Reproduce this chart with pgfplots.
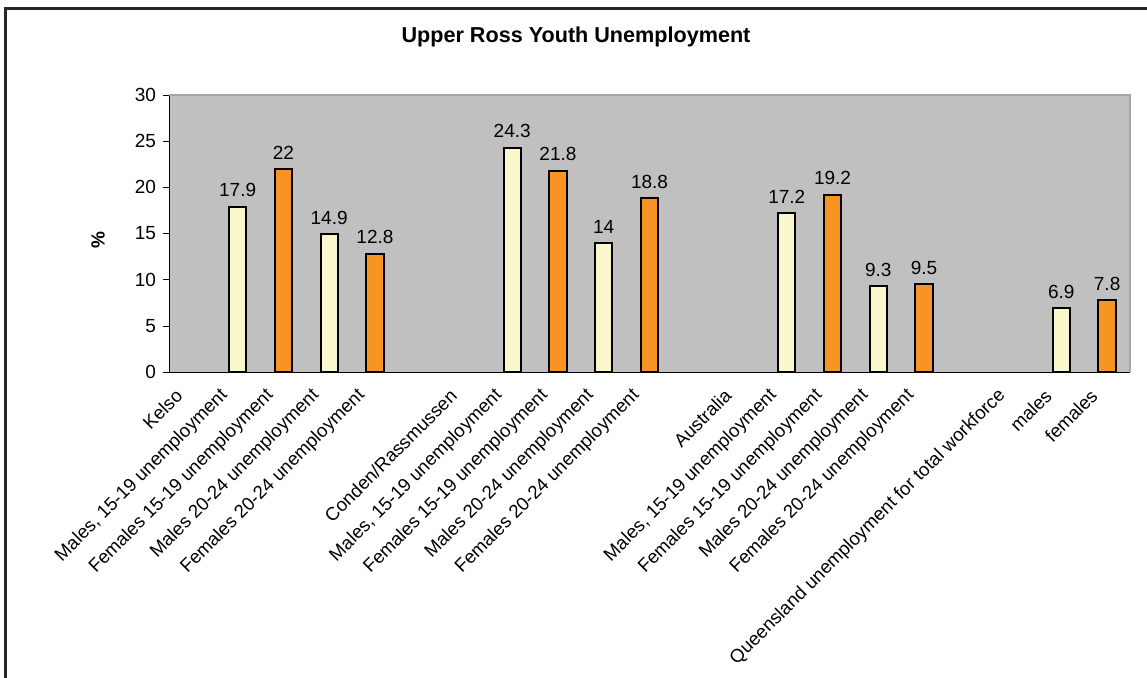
\documentclass[border=0pt]{standalone}
\usepackage{pgfplots}
\pgfplotsset{compat=1.18}
\usepackage{fontspec}
\setmainfont{Liberation Sans}
\definecolor{plotgray}{RGB}{192,192,192}
\definecolor{paleyel}{RGB}{250,247,204}
\definecolor{orangebar}{RGB}{247,148,35}
\begin{document}
\begin{tikzpicture}
\useasboundingbox (0,0) rectangle (573.5pt,338.5pt);
\draw[line width=1.5pt, black!85] (2.5pt,-20pt) -- (2.5pt,334.5pt) -- (600pt,334.5pt);
\node[font=\bfseries\fontsize{10.8pt}{12pt}\selectfont] at (288pt,320pt) {Upper Ross Youth Unemployment};
\node[rotate=90, font=\bfseries\fontsize{9.5pt}{11pt}\selectfont] at (49pt,218.5pt) {\%};
\begin{axis}[
  at={(84.5pt,152.5pt)}, anchor=south west,
  width=480.5pt, height=138.5pt, scale only axis,
  xmin=-0.5, xmax=20.5, ymin=0, ymax=30,
  ytick={0,5,...,30},
  axis background/.style={fill=plotgray},
  axis x line*=bottom, axis y line*=left,
  axis line style={black, -},
  tick align=outside,
  major tick length=3pt,
  ytick style={black},
  xtick={0,...,20},
  major x tick style={draw=none},
  extra x ticks={-0.5,0.5,...,20.5},
  extra x tick labels={},
  extra x tick style={major tick length=3pt, tick style={black}},
  xticklabels={Kelso,{Males, 15-19 unemployment},Females 15-19 unemployment,Males 20-24 unemployment,Females 20-24 unemployment,{},Conden/Rassmussen,{Males, 15-19 unemployment},Females 15-19 unemployment,Males 20-24 unemployment,Females 20-24 unemployment,{},Australia,{Males, 15-19 unemployment},Females 15-19 unemployment,Males 20-24 unemployment,Females 20-24 unemployment,{},Queensland unemployment for total workforce,males,females},
  xticklabel style={rotate=45, anchor=east, font=\fontsize{9.3pt}{10pt}\selectfont, inner sep=1pt, xshift=-8.6pt, yshift=-0.6pt},
  yticklabel style={font=\fontsize{9.5pt}{11pt}\selectfont},
  /pgf/number format/assume math mode=true,
  ybar, bar width=8.65pt, bar shift=0pt,
  nodes near coords,
  every node near coord/.append style={font=\fontsize{9.5pt}{11pt}\selectfont, black, yshift=1pt},
  clip=false,
]
\addplot[draw=black, line width=1pt, fill=paleyel] coordinates {(1,17.9) (3,14.9) (7,24.3) (9,14) (13,17.2) (15,9.3) (19,6.9)};
\addplot[draw=black, line width=1pt, fill=orangebar] coordinates {(2,22) (4,12.8) (8,21.8) (10,18.8) (14,19.2) (16,9.5) (20,7.8)};
\draw[gray!70, line width=0.6pt] (axis cs:-0.5,30) -- (axis cs:20.5,30) -- (axis cs:20.5,0);
\end{axis}
\end{tikzpicture}
\end{document}
